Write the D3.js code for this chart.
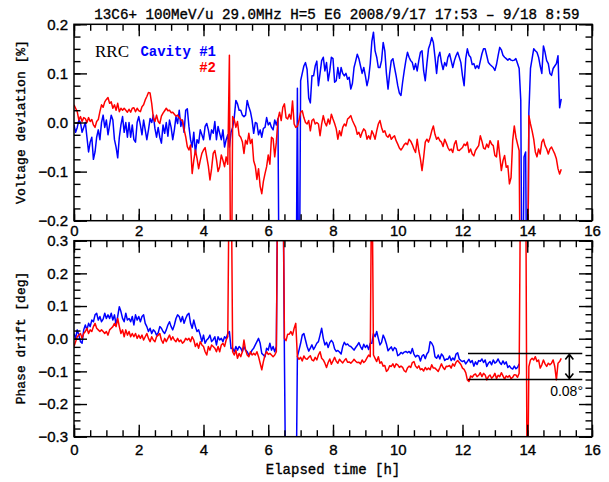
<!DOCTYPE html>
<html>
<head>
<meta charset="utf-8">
<script src="https://cdn.jsdelivr.net/npm/d3@7"></script>
<style>
  body { margin: 0; background: #fff; }
  svg { display: block; }
  .tick text { font-family: "Liberation Sans", Arial, sans-serif; font-size: 15px; fill: #000; stroke: #000; stroke-width: 0.35; }
  .tick line { stroke: #000; stroke-width: 1.4; }
  .lbl { stroke-width: 0.35; }
</style>
</head>
<body>
<svg id="chart" width="609" height="482"></svg>
<script>
// RRC cavity monitor, 13C6+ 100 MeV/u, logged every 3 min (0.05 h)
const sampleStep = 0.05;

const titleText = "13C6+ 100MeV/u 29.0MHz H=5 E6  2008/9/17 17:53 \u2013 9/18 8:59";

const timeTicks = [0, 2, 4, 6, 8, 10, 12, 14, 16];
const timeMinor = d3.range(0, 16.01, 0.5);
const voltTicks = [-0.2, -0.1, 0, 0.1, 0.2];
const voltMinor = d3.range(-0.2, 0.2001, 0.025);
const phaseTicks = [-0.3, -0.2, -0.1, 0, 0.1, 0.2, 0.3];
const phaseMinor = d3.range(-0.3, 0.3001, 0.025);

// Voltage deviation [%], cavity #1
const voltCavity1 = [
  -0.005, -0.02, -0.01, 0.005, 0.0, -0.02, -0.01, 0.0, -0.03, -0.06, -0.04, -0.03, -0.075, -0.06, -0.03, -0.015, -0.035, 0.0, 0.015, -0.01,
  0.005, -0.025, -0.005, 0.015, 0.005, -0.035, -0.05, -0.072, -0.03, -0.005, 0.012, -0.02, 0.0, -0.03, 0.0, -0.03, -0.005, -0.035, -0.04, 0.0,
  0.012, -0.005, -0.025, 0.005, -0.015, -0.035, -0.015, 0.008, 0.0, 0.015, -0.012, -0.03, -0.01, -0.03, -0.042, -0.005, -0.022, 0.0, -0.028, 0.005,
  -0.01, -0.035, -0.015, 0.012, -0.002, 0.025, -0.008, 0.005, -0.02, 0.025, 0.028, -0.008, -0.035, -0.05, -0.02, -0.063, -0.035, -0.042, -0.015, -0.025,
  -0.035, -0.008, -0.002, -0.015, -0.035, -0.015, -0.022, 0.002, -0.035, -0.008, -0.022, -0.035, -0.015, -0.05, -0.035, -0.025, -0.05, -0.02, -0.01, 0.01,
  0.045, 0.038, 0.025, 0.025, 0.015, 0.012, 0.015, 0.045, 0.032, 0.022, 0.005, -0.022, 0.0, -0.002, -0.025, -0.015, -0.03, -0.012, -0.01, 0.01,
  -0.005, 0.0, -0.01, -0.015, 0.005, -0.005, 0.008, -0.5, -0.5, -0.5, -0.5, -0.5, -0.5, -0.5, -0.5, -0.5, -0.5, -0.5, 0.07, -0.5,
  0.085, 0.1, 0.115, 0.122, 0.108, 0.05, 0.04, 0.095, 0.095, 0.115, 0.125, 0.075, 0.1, 0.126, 0.133, 0.105, 0.122, 0.085, 0.105, 0.133,
  0.13, 0.082, 0.085, 0.112, 0.09, 0.112, 0.1, 0.095, 0.1, 0.088, 0.092, 0.068, 0.08, 0.112, 0.125, 0.139, 0.13, 0.115, 0.1, 0.112,
  0.095, 0.075, 0.09, 0.12, 0.165, 0.184, 0.146, 0.133, 0.112, 0.112, 0.126, 0.163, 0.146, 0.1, 0.068, 0.1, 0.126, 0.13, 0.112, 0.095,
  0.075, 0.06, 0.055, 0.082, 0.105, 0.126, 0.143, 0.133, 0.126, 0.122, 0.108, 0.12, 0.105, 0.126, 0.143, 0.146, 0.105, 0.085, 0.12, 0.15,
  0.16, 0.173, 0.163, 0.133, 0.1, 0.133, 0.143, 0.122, 0.108, 0.122, 0.115, 0.133, 0.14, 0.126, 0.112, 0.126, 0.136, 0.143, 0.133, 0.122,
  0.095, 0.075, 0.13, 0.15, 0.137, 0.133, 0.118, 0.12, 0.11, 0.116, 0.11, 0.125, 0.14, 0.15, 0.15, 0.136, 0.122, 0.118, 0.115, 0.112,
  0.106, 0.118, 0.136, 0.153, 0.148, 0.137, 0.133, 0.13, 0.127, 0.13, 0.127, 0.126, 0.127, 0.13, 0.12, 0.11, 0.045, -0.5, -0.07, -0.06,
  -0.5, 0.02, 0.11, 0.13, 0.15, 0.146, 0.143, 0.133, 0.115, 0.1, 0.156, 0.143, 0.126, 0.12, 0.1, 0.096, 0.11, 0.115, 0.12, 0.136,
  0.03, 0.048
];

// Voltage deviation [%], cavity #2
const voltCavity2 = [
  0.036, 0.029, 0.022, 0.005, 0.012, 0.002, 0.01, 0.008, 0.0, 0.01, 0.002, 0.006, -0.005, -0.01, 0.002, 0.006, 0.022, 0.036, 0.031, 0.042,
  0.047, 0.051, 0.039, 0.042, 0.029, 0.036, 0.025, 0.039, 0.022, 0.029, 0.025, 0.029, 0.025, 0.021, 0.027, 0.021, 0.029, 0.03, 0.022, 0.029,
  0.024, 0.022, 0.032, 0.036, 0.046, 0.053, 0.061, 0.06, 0.039, 0.01, 0.002, 0.015, 0.002, -0.002, 0.013, 0.019, 0.024, 0.029, 0.024, 0.025,
  0.02, 0.021, 0.017, 0.013, 0.015, 0.01, 0.006, 0.004, -0.014, -0.029, -0.049, -0.056, -0.046, -0.104, -0.077, -0.056, -0.073, -0.094, -0.077, -0.063,
  -0.056, -0.051, -0.07, -0.089, -0.117, -0.094, -0.063, -0.057, -0.075, -0.1, -0.09, -0.066, -0.077, -0.09, -0.07, -0.085, 0.137, -0.5, 0.012, 0.006,
  -0.01, 0.002, -0.026, -0.03, -0.039, -0.063, -0.036, -0.044, -0.022, -0.043, -0.034, -0.078, -0.089, -0.116, -0.094, -0.13, -0.145, -0.12, -0.104, -0.09,
  -0.066, -0.085, -0.03, -0.033, -0.07, -0.04, 0.007, 0.021, 0.004, 0.031, 0.038, 0.01, 0.007, 0.017, 0.007, 0.044, -0.003, -0.01, -0.008, 0.004,
  0.021, 0.024, 0.01, 0.0, -0.003, 0.004, -0.017, 0.004, 0.007, -0.003, 0.0, -0.003, -0.027, -0.003, 0.014, 0.0, -0.007, 0.007, -0.003, 0.017,
  0.007, -0.002, -0.013, -0.034, -0.017, -0.027, -0.01, -0.003, -0.007, 0.007, 0.01, 0.014, 0.004, -0.003, -0.01, -0.024, -0.02, -0.03, -0.02, -0.013,
  -0.017, -0.034, -0.027, -0.034, -0.017, -0.024, -0.034, -0.017, -0.003, 0.004, -0.01, -0.02, -0.017, -0.027, -0.03, -0.024, -0.034, -0.03, -0.027, -0.037,
  -0.044, -0.052, -0.056, -0.051, -0.045, -0.042, -0.045, -0.034, -0.038, -0.045, -0.054, -0.061, -0.034, -0.057, -0.074, -0.098, -0.071, -0.04, -0.034, -0.04,
  -0.03, -0.017, -0.007, -0.024, -0.034, -0.03, -0.037, -0.04, -0.049, -0.034, -0.042, -0.051, -0.057, -0.054, -0.061, -0.044, -0.037, -0.056, -0.057, -0.054,
  -0.051, -0.044, -0.047, -0.04, -0.061, -0.054, -0.064, -0.068, -0.057, -0.052, -0.047, -0.027, -0.038, -0.052, -0.054, -0.044, -0.051, -0.037, -0.044, -0.047,
  -0.067, -0.07, -0.037, -0.067, -0.098, -0.078, -0.067, -0.091, -0.088, -0.125, -0.112, -0.037, -0.007, -0.03, -0.044, -0.057, -0.5, -0.5, -0.5, -0.5,
  -0.5, 0.014, -0.003, -0.017, -0.034, -0.06, -0.07, -0.054, -0.064, -0.04, -0.034, -0.047, -0.054, -0.064, -0.054, -0.05, -0.057, -0.064, -0.074, -0.094,
  -0.105, -0.095
];

// Phase drift [deg], cavity #1
const phaseCavity1 = [
  0.016, 0.001, 0.027, 0.011, -0.009, -0.014, 0.027, 0.042, 0.027, 0.047, 0.037, 0.057, 0.052, 0.073, 0.078, 0.057, 0.068, 0.052, 0.06, 0.078,
  0.062, 0.073, 0.062, 0.078, 0.057, 0.073, 0.042, 0.068, 0.098, 0.083, 0.062, 0.052, 0.078, 0.057, 0.062, 0.052, 0.068, 0.042, 0.073, 0.057,
  0.068, 0.052, 0.068, 0.073, 0.047, 0.037, 0.022, 0.032, 0.016, 0.027, 0.022, 0.011, 0.018, 0.037, 0.032, 0.022, 0.016, 0.027, 0.042, 0.052,
  0.037, 0.027, 0.042, 0.062, 0.073, 0.068, 0.052, 0.068, 0.047, 0.062, 0.073, 0.078, 0.047, 0.032, 0.057, 0.037, 0.022, 0.027, 0.011, -0.009,
  0.011, -0.014, -0.004, 0.001, 0.011, -0.009, -0.003, 0.006, -0.019, 0.006, -0.004, 0.001, -0.009, 0.006, 0.001, 0.016, 0.022, -0.03, -0.029, -0.04,
  -0.024, -0.035, -0.024, -0.029, -0.04, -0.024, -0.035, -0.04, -0.05, -0.045, -0.035, -0.029, -0.019, -0.009, 0.001, -0.014, -0.045, -0.05, -0.055, -0.029,
  -0.035, -0.014, -0.035, -0.024, -0.04, -0.024, 0.6, 0.6, 0.6, 0.6, -0.06, -0.6, -0.6, -0.6, -0.6, -0.6, -0.6, -0.6, -0.055, -0.035,
  -0.014, 0.011, 0.016, -0.004, -0.024, -0.038, -0.029, -0.019, -0.033, -0.024, -0.014, -0.009, 0.011, 0.032, 0.001, -0.019, -0.011, -0.027, -0.012, -0.005,
  -0.012, -0.031, -0.039, -0.036, -0.041, -0.047, -0.024, -0.011, -0.019, -0.016, -0.022, -0.024, -0.029, -0.035, -0.027, -0.02, -0.012, -0.024, -0.033, -0.017,
  -0.027, -0.02, -0.033, -0.014, -0.014, 0.016, 0.006, 0.022, 0.001, -0.019, -0.011, 0.011, 0.0, -0.016, -0.037, -0.031, -0.025, -0.037, -0.027, -0.031,
  -0.052, -0.049, -0.042, -0.046, -0.041, -0.039, -0.043, -0.039, -0.045, -0.03, -0.047, -0.056, -0.051, -0.053, -0.068, -0.053, -0.049, -0.061, -0.047, -0.04,
  -0.009, -0.014, -0.024, -0.055, -0.06, -0.05, -0.062, -0.047, -0.053, -0.067, -0.062, -0.063, -0.053, -0.067, -0.059, -0.065, -0.047, -0.043, -0.062, -0.067,
  -0.07, -0.067, -0.077, -0.07, -0.063, -0.073, -0.067, -0.084, -0.071, -0.079, -0.067, -0.069, -0.062, -0.073, -0.065, -0.085, -0.075, -0.07, -0.08, -0.065,
  -0.075, -0.071, -0.062, -0.073, -0.079, -0.068, -0.078, -0.071, -0.088, -0.083, -0.09, -0.093, -0.084, -0.092, -0.088, -0.077
];

// Phase drift [deg], cavity #2
const phaseCavity2 = [
  -0.024, -0.009, 0.006, 0.011, 0.016, 0.001, 0.016, 0.022, 0.032, 0.016, 0.027, 0.022, 0.037, 0.047, 0.032, 0.027, 0.022, 0.027, 0.022, 0.016,
  0.022, 0.011, 0.027, 0.032, 0.037, 0.047, 0.037, 0.062, 0.037, 0.016, 0.027, 0.006, 0.027, 0.011, 0.022, 0.006, 0.016, 0.006, 0.016, 0.001,
  0.011, 0.001, 0.011, -0.004, 0.006, 0.016, 0.001, -0.009, 0.006, -0.004, -0.009, 0.006, 0.011, 0.016, -0.004, -0.014, 0.001, -0.009, 0.001, 0.011,
  -0.004, 0.006, -0.004, -0.009, 0.001, -0.009, -0.004, -0.014, -0.009, 0.001, -0.004, 0.001, -0.009, 0.006, -0.004, -0.024, -0.014, -0.029, -0.009, -0.019,
  -0.024, -0.04, -0.05, -0.024, -0.035, -0.019, -0.024, -0.029, -0.04, -0.024, -0.04, -0.019, -0.014, -0.024, -0.004, 0.006, 0.6, 0.6, -0.04, -0.05,
  -0.035, -0.06, -0.045, -0.055, -0.04, -0.004, -0.035, -0.05, -0.055, -0.04, -0.05, -0.045, -0.05, -0.04, -0.055, -0.075, -0.095, -0.07, -0.05, -0.04,
  -0.048, -0.045, -0.05, -0.055, -0.05, -0.04, 0.6, 0.6, 0.6, 0.6, 0.001, -0.006, 0.014, 0.014, 0.022, 0.011, 0.032, 0.047, -0.055, -0.063,
  -0.057, -0.068, -0.053, -0.061, -0.063, -0.057, -0.052, -0.065, -0.068, -0.057, -0.065, -0.05, -0.04, -0.06, -0.065, -0.075, -0.088, -0.073, -0.062, -0.078,
  -0.068, -0.057, -0.069, -0.075, -0.063, -0.069, -0.074, -0.067, -0.061, -0.072, -0.071, -0.075, -0.07, -0.063, -0.069, -0.073, -0.072, -0.077, -0.065, -0.073,
  -0.068, -0.059, -0.05, -0.055, 0.6, -0.05, -0.06, -0.07, -0.055, -0.075, -0.071, -0.084, -0.082, -0.1, -0.095, -0.083, -0.085, -0.077, -0.088, -0.077,
  -0.08, -0.088, -0.084, -0.088, -0.098, -0.102, -0.09, -0.084, -0.088, -0.073, -0.07, -0.084, -0.09, -0.083, -0.095, -0.092, -0.099, -0.088, -0.095, -0.09,
  -0.095, -0.08, -0.09, -0.09, -0.095, -0.1, -0.089, -0.077, -0.088, -0.094, -0.084, -0.085, -0.082, -0.09, -0.077, -0.084, -0.072, -0.067, -0.073, -0.079,
  -0.09, -0.094, -0.104, -0.126, -0.131, -0.114, -0.118, -0.111, -0.108, -0.116, -0.112, -0.104, -0.116, -0.106, -0.111, -0.126, -0.116, -0.111, -0.121, -0.116,
  -0.106, -0.122, -0.112, -0.116, -0.104, -0.114, -0.124, -0.114, -0.118, -0.113, -0.122, -0.118, -0.11, -0.111, -0.118, -0.106, 0.6, 0.6, 0.6, 0.6,
  -0.6, -0.085, -0.065, -0.06, -0.065, -0.055, -0.07, -0.065, -0.09, -0.08, -0.065, -0.077, -0.085, -0.075, -0.08, -0.075, -0.065, -0.085, -0.126, -0.075,
  -0.07, -0.06
];

// Drift band marked over the last hours of the run
const bandLevels = [-0.045, -0.125];
const bandSpan = [12.17, 15.7];
const bandArrowAt = 15.3;
const bandLabel = "0.08\u00b0";

const colors = { cav1: "#0000ff", cav2: "#ff0000" };

const svg = d3.select("#chart");
const x = d3.scaleLinear().domain([0, 16]).range([74, 592]);
const yVolt = d3.scaleLinear().domain([-0.2, 0.2]).range([220.7, 24.3]);
const yPhase = d3.scaleLinear().domain([-0.3, 0.3]).range([436.7, 240.7]);

const fmt = v => {
  const s = d3.format(".1f")(Math.abs(v) < 1e-9 ? 0 : v);
  return s.replace("-", "\u2212");
};

function drawPanel(id, y, major, minor, series, labelPad) {
  const [x0, x1] = x.range();
  const [yb, yt] = y.range();
  const g = svg.append("g");

  svg.append("clipPath").attr("id", id)
    .append("rect").attr("x", x0).attr("y", yt).attr("width", x1 - x0).attr("height", yb - yt);

  const line = d3.line().x((d, i) => x(i * sampleStep)).y(d => y(d));
  const plot = g.append("g").attr("clip-path", `url(#${id})`);
  series.forEach(s => {
    plot.append("path").datum(s.values)
      .attr("fill", "none").attr("stroke", s.color)
      .attr("stroke-width", 1.5).attr("stroke-linejoin", "round")
      .attr("d", line);
  });

  const axes = [
    [d3.axisBottom(x), yb, true], [d3.axisTop(x), yt, false]
  ];
  axes.forEach(([ax, pos, labels]) => {
    g.append("g").attr("transform", `translate(0,${pos})`)
      .call(ax.tickValues(timeMinor).tickSize(-6.5).tickFormat(""))
      .call(a => a.select(".domain").remove());
    g.append("g").attr("transform", `translate(0,${pos})`)
      .call(ax.tickValues(timeTicks).tickSize(-12).tickPadding(labelPad)
        .tickFormat(labels ? d3.format("d") : ""))
      .call(a => a.select(".domain").remove());
  });
  [[d3.axisLeft(y), x0, true], [d3.axisRight(y), x1, false]].forEach(([ax, pos, labels]) => {
    g.append("g").attr("transform", `translate(${pos},0)`)
      .call(ax.tickValues(minor).tickSize(-6.5).tickFormat(""))
      .call(a => a.select(".domain").remove());
    g.append("g").attr("transform", `translate(${pos},0)`)
      .call(ax.tickValues(major).tickSize(-13).tickPadding(6)
        .tickFormat(labels ? fmt : ""))
      .call(a => a.select(".domain").remove());
  });

  g.append("rect").attr("x", x0).attr("y", yt).attr("width", x1 - x0).attr("height", yb - yt)
    .attr("fill", "none").attr("stroke", "#000").attr("stroke-width", 1.5);
  return g;
}

drawPanel("clipVolt", yVolt, voltTicks, voltMinor, [
  { values: voltCavity1, color: colors.cav1 },
  { values: voltCavity2, color: colors.cav2 }
], 5);

const phaseG = drawPanel("clipPhase", yPhase, phaseTicks, phaseMinor, [
  { values: phaseCavity1, color: colors.cav1 },
  { values: phaseCavity2, color: colors.cav2 }
], 8);

// drift band
bandLevels.forEach(v => {
  phaseG.append("line")
    .attr("x1", x(bandSpan[0])).attr("x2", x(bandSpan[1]))
    .attr("y1", yPhase(v)).attr("y2", yPhase(v))
    .attr("stroke", "#000").attr("stroke-width", 1.5);
});
const ax = x(bandArrowAt), ay0 = yPhase(bandLevels[0]), ay1 = yPhase(bandLevels[1]);
phaseG.append("path")
  .attr("d", `M${ax},${ay0 + 1}L${ax},${ay1 - 1}M${ax - 4},${ay0 + 6}L${ax},${ay0 + 1}L${ax + 4},${ay0 + 6}M${ax - 4},${ay1 - 6}L${ax},${ay1 - 1}L${ax + 4},${ay1 - 6}`)
  .attr("fill", "none").attr("stroke", "#000").attr("stroke-width", 1.6);
phaseG.append("text").attr("x", 583).attr("y", ay1 + 16)
  .attr("text-anchor", "end")
  .style("font-family", "'Liberation Sans', Arial, sans-serif").style("font-size", "14px")
  .text(bandLabel);

// titles and labels
const mono = "'Liberation Mono', 'DejaVu Sans Mono', monospace";
function label(sel, color) {
  return sel.attr("class", "lbl").attr("fill", color).attr("stroke", color);
}
label(svg.append("text"), "#000").attr("x", 337).attr("y", 19).attr("text-anchor", "middle")
  .style("font-family", mono).style("font-size", "14.2px").text(titleText);

label(svg.append("text"), "#000").attr("transform", "translate(25,122) rotate(-90)").attr("text-anchor", "middle")
  .style("font-family", mono).style("font-size", "13px").text("Voltage deviation [%]");
label(svg.append("text"), "#000").attr("transform", "translate(25,338) rotate(-90)").attr("text-anchor", "middle")
  .style("font-family", mono).style("font-size", "13px").text("Phase drift [deg]");
label(svg.append("text"), "#000").attr("x", 333).attr("y", 474).attr("text-anchor", "middle")
  .style("font-family", mono).style("font-size", "14px").text("Elapsed time [h]");

svg.append("text").attr("x", 95).attr("y", 57)
  .style("font-family", "'Liberation Serif', 'Times New Roman', serif").style("font-size", "17px")
  .text("RRC");
svg.append("text").attr("x", 216).attr("y", 56).attr("text-anchor", "end")
  .style("font-family", mono).style("font-size", "14px").style("font-weight", "bold")
  .attr("fill", colors.cav1).text("Cavity #1");
svg.append("text").attr("x", 216).attr("y", 72).attr("text-anchor", "end")
  .style("font-family", mono).style("font-size", "14px").style("font-weight", "bold")
  .attr("fill", colors.cav2).text("#2");
</script>
</body>
</html>
